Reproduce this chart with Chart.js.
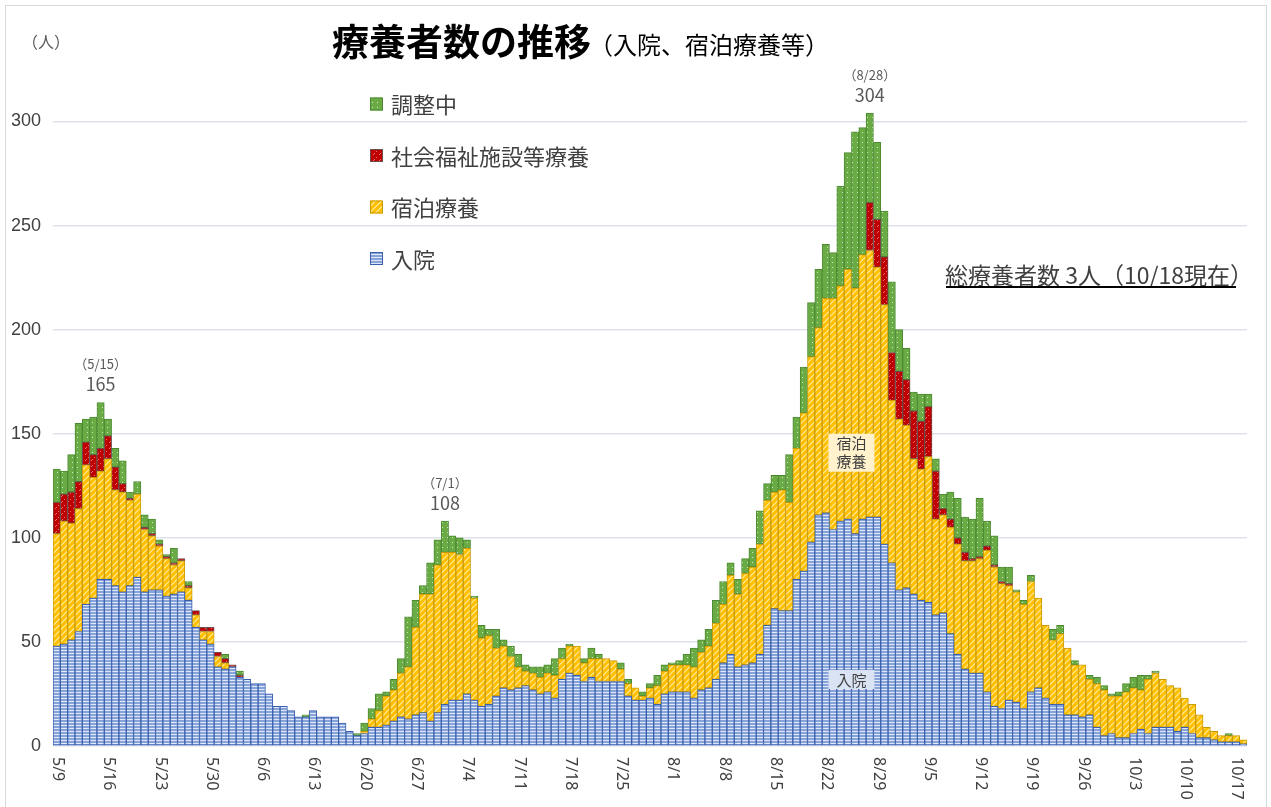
<!DOCTYPE html>
<html lang="ja">
<head>
<meta charset="utf-8">
<title>療養者数の推移</title>
<script src="https://cdn.jsdelivr.net/npm/chart.js@4.4.1/dist/chart.umd.min.js"></script>
<style>
    html, body { margin: 0; padding: 0; background: #fff; }
    #wrap { position: relative; width: 1271px; height: 807px; }
</style>
</head>
<body>
<div id="wrap"><canvas id="careChart" width="1271" height="807"></canvas></div>
<script>
// 2021/5/9 ~ 10/18, daily
const startDate = new Date(2021, 4, 9);
const dayCount = 163;
const dateLabels = [];
for (let i = 0; i < dayCount; i++) {
    const d = new Date(startDate.getFullYear(), startDate.getMonth(), startDate.getDate() + i);
    dateLabels.push((d.getMonth() + 1) + '/' + d.getDate());
}

// 入院
const hospital = [
    48, 49, 51, 55, 68, 71, 80, 80, 77, 74, 77, 81, 74, 75, 75, 72, 73, 74, 70, 57,
    51, 49, 38, 37, 38, 33, 32, 30, 30, 25, 19, 19, 17, 14, 14, 17, 14, 14, 14, 11,
    7, 5, 6, 9, 9, 10, 12, 14, 13, 15, 16, 12, 16, 20, 22, 22, 25, 22, 19, 20,
    24, 28, 27, 28, 29, 27, 25, 26, 23, 32, 35, 34, 31, 33, 31, 31, 31, 31, 24, 22,
    22, 23, 20, 25, 26, 26, 26, 23, 27, 28, 32, 40, 44, 38, 39, 40, 44, 58, 66, 65,
    65, 80, 84, 98, 111, 112, 104, 108, 109, 102, 109, 110, 110, 97, 88, 75, 76, 73, 70, 69,
    63, 64, 54, 44, 37, 35, 35, 26, 19, 18, 22, 21, 18, 26, 28, 23, 20, 20, 15, 15,
    14, 15, 9, 5, 6, 4, 4, 6, 8, 6, 9, 9, 9, 7, 9, 6, 4, 4, 3, 2,
    2, 2, 1
];
// 宿泊療養
const hotel = [
    54, 59, 56, 59, 67, 58, 52, 58, 46, 48, 41, 40, 30, 26, 21, 18, 14, 15, 6, 6,
    4, 6, 5, 3, 0, 0, 0, 0, 0, 0, 0, 0, 0, 0, 0, 0, 0, 0, 0, 0,
    0, 0, 1, 4, 8, 14, 15, 21, 25, 42, 57, 61, 71, 73, 71, 70, 70, 49, 33, 33,
    23, 20, 16, 10, 7, 8, 8, 9, 11, 10, 13, 14, 9, 9, 11, 11, 10, 6, 6, 6,
    2, 5, 9, 11, 13, 13, 13, 15, 18, 20, 27, 28, 38, 35, 44, 46, 53, 60, 56, 58,
    52, 63, 76, 89, 90, 103, 111, 113, 120, 118, 127, 128, 120, 115, 78, 82, 78, 65, 63, 70,
    46, 47, 51, 53, 52, 54, 55, 68, 67, 60, 55, 53, 50, 53, 43, 35, 31, 34, 32, 24,
    25, 17, 21, 22, 18, 20, 22, 22, 19, 26, 26, 23, 20, 21, 14, 14, 11, 5, 4, 3,
    3, 3, 2
];
// 社会福祉施設等療養
const welfare = [
    15, 13, 15, 13, 11, 11, 11, 11, 11, 4, 1, 0, 1, 1, 1, 1, 1, 1, 1, 2,
    2, 2, 2, 2, 1, 1, 0, 0, 0, 0, 0, 0, 0, 0, 0, 0, 0, 0, 0, 0,
    0, 0, 0, 0, 0, 0, 0, 0, 0, 0, 0, 0, 0, 0, 0, 0, 0, 0, 0, 0,
    0, 0, 0, 0, 0, 0, 0, 0, 0, 0, 0, 0, 0, 0, 0, 0, 0, 0, 0, 0,
    0, 0, 0, 0, 0, 0, 0, 0, 0, 0, 0, 0, 0, 0, 0, 0, 0, 0, 0, 0,
    0, 0, 0, 0, 0, 0, 0, 0, 0, 0, 0, 23, 23, 23, 23, 23, 22, 23, 23, 24,
    23, 3, 4, 3, 4, 1, 1, 2, 1, 1, 1, 0, 0, 0, 0, 0, 0, 0, 0, 0,
    0, 0, 0, 0, 0, 0, 0, 0, 0, 0, 0, 0, 0, 0, 0, 0, 0, 0, 0, 0,
    0, 0, 0
];
// 調整中
const adjusting = [
    16, 11, 18, 28, 11, 18, 22, 8, 9, 11, 3, 6, 6, 7, 2, 1, 7, 0, 2, 0,
    0, 0, 0, 2, 0, 2, 0, 0, 0, 0, 0, 0, 0, 0, 1, 0, 0, 0, 0, 0,
    0, 1, 4, 5, 8, 2, 5, 7, 24, 13, 4, 15, 12, 15, 8, 8, 4, 1, 6, 3,
    9, 3, 5, 6, 3, 3, 5, 4, 8, 5, 1, 0, 2, 5, 2, 0, 0, 3, 2, 0,
    2, 2, 5, 3, 1, 2, 5, 9, 6, 8, 11, 11, 6, 7, 7, 9, 16, 8, 8, 7,
    23, 15, 22, 26, 28, 26, 22, 48, 56, 75, 61, 43, 37, 22, 34, 20, 15, 9, 13, 6,
    6, 7, 13, 19, 17, 19, 28, 12, 14, 7, 8, 1, 2, 3, 0, 0, 5, 4, 0, 2,
    0, 2, 3, 2, 1, 2, 4, 5, 7, 2, 1, 0, 0, 0, 0, 0, 0, 0, 0, 0,
    1, 0, 0
];

const tickEvery = 7;
const peakNotes = [
    { index: 6, date: '（5/15）' },
    { index: 53, date: '（7/1）' },
    { index: 111, date: '（8/28）' }
];

const TEXT_COLOR = '#404040';
const JP_FONT = '"Noto Sans CJK JP", "Noto Sans", sans-serif';

function makePattern(w, h, paint) {
    const c = document.createElement('canvas');
    c.width = w;
    c.height = h;
    paint(c.getContext('2d'));
    return c.getContext('2d').createPattern(c, 'repeat');
}

const patterns = {
    blue: makePattern(4, 3, g => {
        g.fillStyle = '#86a3da';
        g.fillRect(0, 0, 4, 3);
        g.fillStyle = '#dfe7f6';
        g.fillRect(0, 2, 4, 1);
    }),
    yellow: makePattern(6, 6, g => {
        g.fillStyle = '#ffc000';
        g.fillRect(0, 0, 6, 6);
        g.fillStyle = '#ffe07a';
        for (let y = 0; y < 6; y++) {
            g.fillRect((5 - y + 6) % 6, y, 1, 1);
            g.fillRect((6 - y + 6) % 6, y, 1, 1);
        }
    }),
    red: makePattern(6, 6, g => {
        g.fillStyle = '#c00000';
        g.fillRect(0, 0, 6, 6);
        g.fillStyle = '#e57373';
        g.fillRect(1, 4, 1, 1);
        g.fillRect(2, 3, 1, 1);
        g.fillRect(4, 1, 1, 1);
    }),
    green: makePattern(5, 5, g => {
        g.fillStyle = '#6aab46';
        g.fillRect(0, 0, 5, 5);
        g.fillStyle = '#cfe8bf';
        g.fillRect(2, 2, 1, 1);
    })
};

const series = [
    { label: '入院', data: hospital, fill: patterns.blue, border: '#3a5fae' },
    { label: '宿泊療養', data: hotel, fill: patterns.yellow, border: '#c99a06' },
    { label: '社会福祉施設等療養', data: welfare, fill: patterns.red, border: '#6e4d4d' },
    { label: '調整中', data: adjusting, fill: patterns.green, border: '#4c8a31' }
];

// frame, title, legend, notes, rotated date labels
const decorPlugin = {
    id: 'decor',
    beforeDraw(chart) {
        const ctx = chart.ctx;
        ctx.save();
        ctx.strokeStyle = '#d9d9d9';
        ctx.lineWidth = 1;
        ctx.strokeRect(5.5, 5.5, 1261, 820);
        ctx.restore();
    },
    afterDatasetsDraw(chart) {
        const ctx = chart.ctx;
        const x = chart.scales.x;
        const y = chart.scales.y;
        ctx.save();

        // title
        ctx.fillStyle = '#000';
        ctx.textBaseline = 'middle';
        ctx.textAlign = 'left';
        ctx.font = 'bold 37px ' + JP_FONT;
        ctx.fillText('療養者数の推移', 332, 42);
        ctx.font = '24px ' + JP_FONT;
        ctx.fillText('（入院、宿泊療養等）', 589, 45);

        ctx.fillStyle = '#595959';
        ctx.font = '16px ' + JP_FONT;
        ctx.fillText('（人）', 22, 42);

        // legend, top item is last series
        const legendItems = series.slice().reverse();
        legendItems.forEach((s, i) => {
            const cy = 104 + i * 51.5;
            ctx.fillStyle = s.fill;
            ctx.fillRect(370, cy - 6.5, 13, 13);
            ctx.strokeStyle = s.border;
            ctx.lineWidth = 1;
            ctx.strokeRect(370.5, cy - 6, 12, 12);
            ctx.fillStyle = TEXT_COLOR;
            ctx.font = '22px ' + JP_FONT;
            ctx.fillText(s.label, 391, cy + 1);
        });

        // peak values
        ctx.textAlign = 'center';
        peakNotes.forEach(n => {
            const total = hospital[n.index] + hotel[n.index] + welfare[n.index] + adjusting[n.index];
            const px = x.getPixelForValue(n.index);
            const py = y.getPixelForValue(total);
            ctx.fillStyle = '#595959';
            ctx.font = '13px ' + JP_FONT;
            ctx.fillText(n.date, px, py - 38);
            ctx.font = '18px ' + JP_FONT;
            ctx.fillText(String(total), px, py - 18);
        });

        // in-plot labels
        const boxX = (x.getPixelForValue(108) + x.getPixelForValue(109)) / 2;
        const hotelTop = y.getPixelForValue(150);
        ctx.fillStyle = '#fff2cc';
        ctx.fillRect(boxX - 23, hotelTop, 46, 38);
        ctx.fillStyle = TEXT_COLOR;
        ctx.font = '15px ' + JP_FONT;
        ctx.fillText('宿泊', boxX, hotelTop + 10);
        ctx.fillText('療養', boxX, hotelTop + 28);

        const hospTop = y.getPixelForValue(36.5);
        ctx.fillStyle = '#dae3f3';
        ctx.fillRect(boxX - 23, hospTop, 46, 19);
        ctx.fillStyle = TEXT_COLOR;
        ctx.fillText('入院', boxX, hospTop + 10);

        // total note
        ctx.textAlign = 'left';
        ctx.font = '23px ' + JP_FONT;
        ctx.fillText('総療養者数 3人（10/18現在）', 945, 275);
        ctx.fillStyle = '#000';
        ctx.fillRect(946, 286, 290, 2);

        // date ticks, read top to bottom
        ctx.fillStyle = TEXT_COLOR;
        ctx.font = '16px "Noto Sans", sans-serif';
        ctx.textBaseline = 'middle';
        for (let i = 0; i < dateLabels.length; i += tickEvery) {
            ctx.save();
            ctx.translate(x.getPixelForValue(i) + 1, y.bottom + 11);
            ctx.rotate(Math.PI / 2);
            ctx.fillText(dateLabels[i], 0, 0);
            ctx.restore();
        }

        ctx.restore();
    }
};

new Chart(document.getElementById('careChart').getContext('2d'), {
    type: 'bar',
    data: {
        labels: dateLabels,
        datasets: series.map(s => ({
            label: s.label,
            data: s.data.map(v => v || null),
            backgroundColor: s.fill,
            borderColor: s.border,
            borderWidth: 1,
            borderSkipped: false,
            barPercentage: 1,
            categoryPercentage: 1
        }))
    },
    options: {
        responsive: false,
        animation: false,
        events: [],
        layout: { padding: { left: 12, right: 24, top: 59, bottom: 61 } },
        scales: {
            x: {
                stacked: true,
                display: false
            },
            y: {
                stacked: true,
                min: 0,
                max: 330,
                afterFit(scale) { scale.width = 41; },
                border: { display: false },
                grid: {
                    drawTicks: false,
                    lineWidth: 1.5,
                    color: c => (c.tick && c.tick.value % 50 === 0) ? '#dde2ec' : 'rgba(0,0,0,0)'
                },
                ticks: {
                    stepSize: 50,
                    padding: 12,
                    color: TEXT_COLOR,
                    font: { family: 'Liberation Sans', size: 18 },
                    callback: v => (v % 50 === 0 ? v : '')
                }
            }
        },
        plugins: {
            legend: { display: false },
            tooltip: { enabled: false }
        }
    },
    plugins: [decorPlugin]
});
</script>
</body>
</html>
